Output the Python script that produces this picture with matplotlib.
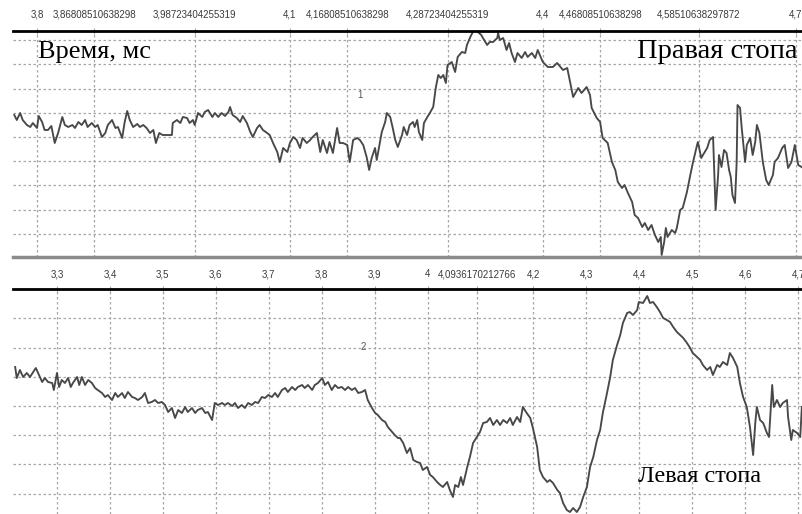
import numpy as np
import matplotlib
matplotlib.use("Agg")
import matplotlib.pyplot as plt

# --- канал 1: правая стопа ---
t_right = [3.773, 3.776, 3.780, 3.783, 3.788, 3.792, 3.795, 3.800, 3.802, 3.806,
           3.809, 3.813, 3.817, 3.821, 3.825, 3.830, 3.833, 3.837, 3.842, 3.845,
           3.849, 3.853, 3.857, 3.860, 3.865, 3.869, 3.872, 3.877, 3.881, 3.884,
           3.889, 3.893, 3.896, 3.901, 3.904, 3.907, 3.910, 3.914, 3.919, 3.922,
           3.926, 3.930, 3.934, 3.938, 3.941, 3.945, 3.949, 3.955, 3.960, 3.961,
           3.966, 3.970, 3.973, 3.978, 3.981, 3.985, 3.987, 3.991, 3.996, 3.999,
           4.003, 4.008, 4.011, 4.015, 4.019, 4.023, 4.027, 4.029, 4.032, 4.037,
           4.041, 4.044, 4.049, 4.053, 4.056, 4.061, 4.064, 4.068, 4.073, 4.076,
           4.080, 4.085, 4.088, 4.092, 4.097, 4.100, 4.104, 4.108, 4.112, 4.115,
           4.120, 4.124, 4.127, 4.132, 4.136, 4.139, 4.144, 4.147, 4.151, 4.156,
           4.159, 4.163, 4.168, 4.171, 4.175, 4.180, 4.183, 4.187, 4.191, 4.194,
           4.197, 4.201, 4.203, 4.209, 4.213, 4.215, 4.219, 4.222, 4.225, 4.228,
           4.233, 4.235, 4.239, 4.242, 4.246, 4.248, 4.251, 4.253, 4.257, 4.259,
           4.263, 4.266, 4.270, 4.273, 4.276, 4.279, 4.282, 4.285, 4.287, 4.292,
           4.296, 4.299, 4.304, 4.308, 4.310, 4.314, 4.317, 4.319, 4.323, 4.327,
           4.329, 4.334, 4.337, 4.341, 4.346, 4.347, 4.349, 4.353, 4.357, 4.360,
           4.363, 4.367, 4.370, 4.375, 4.379, 4.382, 4.387, 4.391, 4.394, 4.400,
           4.406, 4.412, 4.417, 4.424, 4.429, 4.436, 4.442, 4.446, 4.452, 4.456,
           4.458, 4.464, 4.468, 4.471, 4.477, 4.482, 4.486, 4.489, 4.494, 4.497,
           4.501, 4.506, 4.509, 4.513, 4.518, 4.521, 4.525, 4.529, 4.533, 4.537,
           4.540, 4.541, 4.544, 4.546, 4.548, 4.553, 4.557, 4.559, 4.563, 4.566,
           4.571, 4.575, 4.578, 4.583, 4.584, 4.588, 4.590, 4.595, 4.598, 4.602,
           4.603, 4.605, 4.608, 4.609, 4.612, 4.615, 4.618, 4.621, 4.623, 4.625,
           4.628, 4.630, 4.631, 4.634, 4.636, 4.640, 4.642, 4.646, 4.649, 4.652,
           4.654, 4.657, 4.661, 4.665, 4.668, 4.673, 4.675, 4.679, 4.684, 4.687,
           4.691, 4.695, 4.699, 4.703, 4.707]
v_right = [22, 17, 24, 17, 12, 10, 14, 9, 21, 15,
           7, 7, 11, -6, 4, 20, 12, 10, 12, 9,
           15, 12, 17, 10, 14, 10, 12, 0, 4, 12,
           17, 9, 10, -1, 15, 26, 17, 10, 13, 10,
           12, 9, 4, 7, -6, 4, 2, 2, 2, 14,
           17, 14, 20, 19, 14, 17, 12, 24, 20, 25,
           27, 20, 24, 20, 24, 21, 25, 30, 22, 19,
           15, 21, 14, 5, 0, 9, 12, 7, 4, 2,
           -6, -15, -25, -11, -15, -6, 0, -3, -11, -1,
           -6, -3, 0, 4, -15, -3, -16, -5, -16, 9,
           -6, -6, -8, -25, -3, -1, -3, -8, -20, -33,
           -21, -11, -23, 5, 15, 24, 20, 9, -3, -10,
           2, 10, 2, 12, 15, 10, 17, 5, -3, 14,
           20, 24, 30, 49, 62, 59, 62, 54, 72, 75,
           65, 80, 85, 84, 92, 100, 105, 107, 105, 102,
           99, 92, 95, 95, 99, 104, 97, 99, 87, 94,
           84, 75, 84, 79, 85, 80, 84, 79, 87, 75,
           70, 70, 74, 67, 69, 40, 49, 44, 50, 42,
           29, 19, 15, -1, -6, -25, -33, -45, -51, -48,
           -56, -65, -78, -81, -90, -86, -93, -88, -98, -105,
           -100, -118, -105, -91, -100, -93, -96, -91, -73, -71,
           -55, -38, -26, -8, -5, -21, -18, -11, -3, 0,
           -25, -73, -38, -18, -30, -13, -16, -33, -40, -58,
           -66, -25, 32, 29, 9, -25, -8, -1, -18, -5,
           12, 4, -25, -43, -48, -38, -25, -21, -11, -8,
           -31, -25, -8, -28, -30]

# --- канал 2: левая стопа ---
t_left = [3.221, 3.224, 3.230, 3.236, 3.243, 3.249, 3.255, 3.260, 3.266, 3.272,
          3.277, 3.283, 3.291, 3.294, 3.300, 3.304, 3.309, 3.315, 3.321, 3.326,
          3.330, 3.338, 3.342, 3.347, 3.353, 3.359, 3.366, 3.372, 3.377, 3.385,
          3.391, 3.396, 3.404, 3.410, 3.415, 3.423, 3.428, 3.434, 3.442, 3.447,
          3.453, 3.461, 3.466, 3.472, 3.479, 3.485, 3.491, 3.498, 3.504, 3.510,
          3.517, 3.523, 3.529, 3.536, 3.542, 3.547, 3.555, 3.561, 3.566, 3.574,
          3.580, 3.585, 3.593, 3.598, 3.604, 3.612, 3.617, 3.623, 3.631, 3.636,
          3.642, 3.649, 3.655, 3.661, 3.668, 3.674, 3.680, 3.687, 3.693, 3.699,
          3.706, 3.712, 3.717, 3.725, 3.731, 3.736, 3.744, 3.750, 3.755, 3.763,
          3.768, 3.774, 3.782, 3.787, 3.793, 3.801, 3.806, 3.812, 3.819, 3.825,
          3.831, 3.838, 3.844, 3.850, 3.857, 3.863, 3.869, 3.876, 3.882, 3.887,
          3.895, 3.901, 3.906, 3.914, 3.920, 3.925, 3.933, 3.938, 3.944, 3.948,
          3.954, 3.961, 3.967, 3.973, 3.980, 3.986, 3.991, 3.999, 4.005, 4.010,
          4.018, 4.024, 4.029, 4.037, 4.042, 4.048, 4.052, 4.058, 4.063, 4.067,
          4.075, 4.080, 4.086, 4.093, 4.099, 4.105, 4.112, 4.118, 4.124, 4.131,
          4.137, 4.143, 4.150, 4.156, 4.161, 4.169, 4.175, 4.180, 4.186, 4.194,
          4.199, 4.207, 4.212, 4.218, 4.226, 4.231, 4.237, 4.245, 4.250, 4.256,
          4.263, 4.269, 4.275, 4.282, 4.288, 4.294, 4.301, 4.307, 4.313, 4.320,
          4.326, 4.331, 4.339, 4.345, 4.350, 4.358, 4.364, 4.369, 4.377, 4.382,
          4.388, 4.396, 4.399, 4.407, 4.415, 4.420, 4.426, 4.433, 4.439, 4.445,
          4.452, 4.458, 4.464, 4.471, 4.477, 4.483, 4.490, 4.496, 4.501, 4.509,
          4.515, 4.520, 4.528, 4.534, 4.539, 4.547, 4.552, 4.558, 4.566, 4.571,
          4.577, 4.585, 4.590, 4.596, 4.603, 4.609, 4.615, 4.619, 4.622, 4.628,
          4.634, 4.641, 4.645, 4.651, 4.654, 4.660, 4.666, 4.671, 4.679, 4.681,
          4.687, 4.690, 4.698, 4.704, 4.707]
v_left = [39, 28, 36, 29, 33, 29, 34, 38, 31, 24,
          28, 24, 23, 16, 33, 19, 26, 23, 28, 19,
          23, 29, 21, 29, 21, 26, 23, 18, 16, 13,
          9, 11, 6, 13, 9, 13, 8, 14, 9, 8,
          6, 9, 13, 3, 4, 6, 3, 4, 1, -6,
          -2, -12, -4, -7, -1, -6, -2, -7, -4, -2,
          -7, -6, -14, 3, 1, 3, 1, 3, 0, 3,
          -2, 1, -2, 3, 1, 4, 3, 9, 8, 11,
          9, 13, 9, 16, 18, 14, 19, 16, 19, 21,
          18, 21, 16, 21, 23, 28, 21, 24, 16, 21,
          18, 19, 16, 19, 16, 18, 13, 14, 16, 6,
          -2, -7, -9, -14, -16, -21, -26, -29, -32, -32,
          -37, -47, -42, -54, -56, -57, -64, -61, -69, -71,
          -76, -79, -81, -76, -84, -91, -79, -81, -71, -79,
          -61, -51, -37, -31, -26, -17, -16, -12, -19, -14,
          -19, -14, -17, -12, -19, -11, -16, -1, -6, -12,
          -22, -41, -64, -71, -76, -74, -77, -84, -87, -97,
          -104, -106, -102, -106, -101, -91, -81, -61, -51, -34,
          -24, -7, 13, 29, 46, 61, 71, 83, 93, 94,
          91, 96, 104, 103, 110, 103, 104, 99, 94, 88,
          86, 84, 79, 74, 71, 68, 63, 58, 53, 49,
          46, 41, 36, 39, 31, 41, 39, 44, 41, 53,
          48, 39, 23, 9, -1, -21, -49, -17, -1, -14,
          -17, -27, -31, 21, -1, 6, -1, 3, 6, -11,
          -34, -24, -27, -31, -1]

ticks_right = [3.8, 3.86808510638298, 3.98723404255319, 4.1, 4.16808510638298,
               4.28723404255319, 4.4, 4.46808510638298, 4.58510638297872, 4.7]
labels_right = ["3,8", "3,86808510638298", "3,98723404255319", "4,1", "4,16808510638298",
                "4,28723404255319", "4,4", "4,46808510638298", "4,58510638297872", "4,7"]
ticks_left = [3.3, 3.4, 3.5, 3.6, 3.7, 3.8, 3.9, 4.0, 4.0936170212766,
              4.2, 4.3, 4.4, 4.5, 4.6, 4.7]
labels_left = ["3,3", "3,4", "3,5", "3,6", "3,7", "3,8", "3,9", "4", "4,0936170212766",
               "4,2", "4,3", "4,4", "4,5", "4,6", "4,7"]

tick_font = ["Liberation Sans", "DejaVu Sans"]
serif = ["Liberation Serif", "DejaVu Serif"]
trace_color = "#484848"
grid_color = "#a6a6a6"

fig = plt.figure(figsize=(8.02, 5.14), dpi=100)
ax1 = fig.add_axes([13 / 802, 0.5, 789 / 802, 226 / 514])
ax2 = fig.add_axes([13 / 802, 0.0, 789 / 802, 225 / 514])


def style(ax, xlim, ylim, step, nlev, ticks, labels, pad):
    ax.set_xlim(*xlim)
    ax.set_ylim(*ylim)
    ax.xaxis.tick_top()
    ax.set_xticks(ticks)
    ax.set_xticklabels(labels, family=tick_font, fontsize=7.0, color="#3a3a3a")
    ax.set_yticks(np.arange(-nlev, nlev + 1) * step)
    ax.tick_params(axis="y", length=0, labelleft=False)
    ax.tick_params(axis="x", length=4, width=0.8, direction="inout",
                   color=grid_color, pad=pad)
    ax.grid(True, color=grid_color, lw=0.9, dashes=(2, 2))
    for s in ["left", "right"]:
        ax.spines[s].set_visible(False)
    ax.spines["top"].set_color("black")
    ax.spines["top"].set_linewidth(2.0)


style(ax1, (3.7715, 4.7075), (-120, 106), 24.2, 4, ticks_right, labels_right, 6)
ax1.spines["bottom"].set_color("#8c8c8c")
ax1.spines["bottom"].set_linewidth(2.5)
ax1.plot(t_right, v_right, color=trace_color, lw=1.35)
ax1.text(0.032, 0.905, "Время, мс", transform=ax1.transAxes, family=serif,
         fontsize=19, va="center", ha="left")
ax1.text(0.9937, 0.91, "Правая стопа", transform=ax1.transAxes, family=serif,
         fontsize=20.5, va="center", ha="right")
ax1.text(4.183, 42, "1", family=tick_font, fontsize=7, color="#555555",
         ha="center", va="center")

style(ax2, (3.2169, 4.7073), (-108, 117), 29.2, 3, ticks_left, labels_left, 5)
ax2.spines["bottom"].set_visible(False)
ax2.plot(t_left, v_left, color=trace_color, lw=1.35)
ax2.text(4.397, -71, "Левая стопа", family=serif, fontsize=17.5,
         va="center", ha="left")
ax2.text(3.878, 59, "2", family=tick_font, fontsize=7, color="#555555",
         ha="center", va="center")

fig.savefig("out.png", dpi=100)
